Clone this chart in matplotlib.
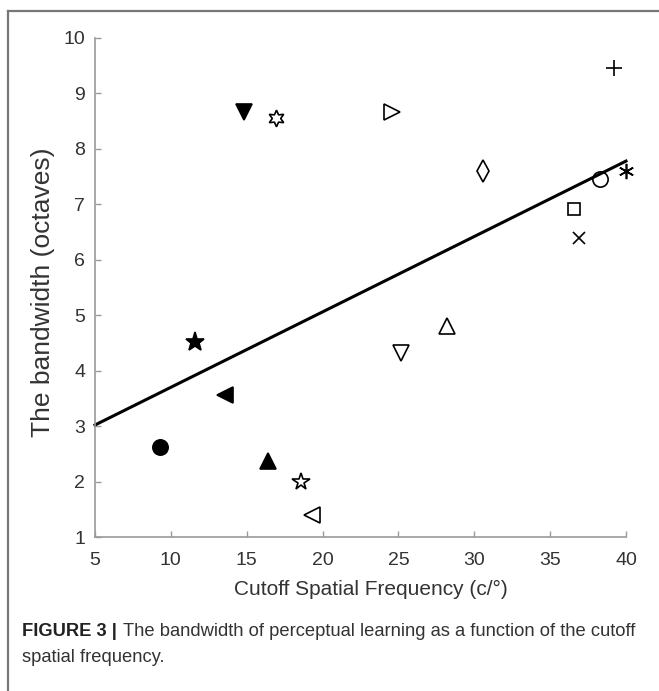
import matplotlib
matplotlib.use("Agg")
import matplotlib.pyplot as plt
from matplotlib.lines import Line2D

plt.rcParams['font.family'] = ['Liberation Sans', 'DejaVu Sans']

# data (cutoff spatial frequency, bandwidth in octaves), one point per marker
freq = [9.3, 11.6, 13.6, 16.4, 18.6, 19.3, 14.8, 16.9, 24.6, 30.6,
        39.2, 40.0, 38.3, 36.6, 36.9, 28.2, 25.2]
bandwidth = [2.62, 4.52, 3.57, 2.37, 2.00, 1.40, 8.67, 8.56, 8.67, 7.60,
             9.45, 7.60, 7.46, 6.92, 6.39, 4.80, 4.32]
markers = ['o', '*', '<', '^', '*', '<', 'v', (6, 1, 0), '>', 'd',
           '+', (6, 2, 0), 'o', 's', 'x', '^', 'v']
filled = [True, True, True, True, False, False, True, False, False, False,
          False, False, False, False, False, False, False]
msizes = [11, 14, 11, 12, 13, 12, 12, 12, 12, 11, 11, 11, 11, 9, 8, 12, 12]

# regression line endpoints
fit_x = [5, 40]
fit_y = [3.02, 7.78]

xticks = [5, 10, 15, 20, 25, 30, 35, 40]
yticks = [1, 2, 3, 4, 5, 6, 7, 8, 9, 10]

W, H = 659, 691
fig = plt.figure(figsize=(W / 100, H / 100), dpi=100)
ax = fig.add_axes([95 / W, 1 - 537 / H, (626 - 95) / W, (537 - 38) / H])

ax.plot(fit_x, fit_y, color='black', lw=2.2, zorder=2, clip_on=False)
for x, y, m, f, s in zip(freq, bandwidth, markers, filled, msizes):
    ax.plot([x], [y], linestyle='none', marker=m, markersize=s,
            markerfacecolor='black' if f else 'none',
            markeredgecolor='black', markeredgewidth=1.2, zorder=3, clip_on=False)

ax.set_xlim(5, 40)
ax.set_ylim(1, 10)
ax.set_xticks(xticks)
ax.set_yticks(yticks)
ax.spines['top'].set_visible(False)
ax.spines['right'].set_visible(False)
for s in ['left', 'bottom']:
    ax.spines[s].set_color('#9a9a9a')
    ax.spines[s].set_linewidth(1.2)
ax.tick_params(direction='in', length=4, width=1, color='#9a9a9a',
               labelsize=14, labelcolor='#333333', pad=7)
ax.tick_params(axis='x', pad=11)
ax.set_xlabel('Cutoff Spatial Frequency (c/°)', fontsize=15, color='#333333')
ax.set_ylabel('The bandwidth (octaves)', fontsize=19, color='#333333')
ax.xaxis.set_label_coords((371 - 95) / (626 - 95), -(589 - 537) / (537 - 38), transform=ax.transAxes)
ax.yaxis.set_label_coords(-(95 - 43) / (626 - 95), (537 - 292) / (537 - 38), transform=ax.transAxes)
ax.xaxis.label.set_va('center')
ax.yaxis.label.set_va('center')

# outer frame (top and left)
fig.add_artist(Line2D([8 / W, 1.0], [1 - 11 / H, 1 - 11 / H], transform=fig.transFigure,
                      color='#777777', lw=1.6))
fig.add_artist(Line2D([8 / W, 8 / W], [0, 1 - 11 / H], transform=fig.transFigure,
                      color='#777777', lw=1.6))

cap_fs = 13.2
t1 = fig.text(22 / W, 1 - 632 / H, 'FIGURE 3 |', fontsize=cap_fs, va='center',
              color='#222222', weight='bold')
fig.canvas.draw()
bb = t1.get_window_extent()
fig.text((bb.x1 + 6) / W, 1 - 632 / H,
         'The bandwidth of perceptual learning as a function of the cutoff',
         fontsize=cap_fs, va='center', color='#333333')
fig.text(22 / W, 1 - 657 / H, 'spatial frequency.', fontsize=cap_fs, va='center', color='#333333')

fig.savefig('out.png', dpi=100)
